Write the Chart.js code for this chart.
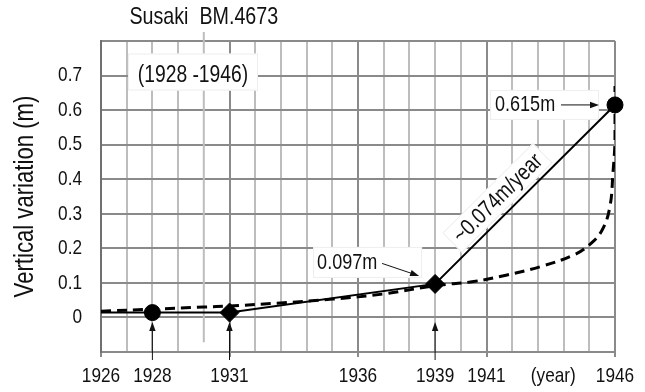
<!DOCTYPE html>
<html>
<head>
<meta charset="utf-8">
<script src="https://cdn.jsdelivr.net/npm/chart.js@4/dist/chart.umd.min.js"></script>
<style>
  html, body { margin: 0; padding: 0; background: #fff; }
  #wrap { width: 645px; height: 392px; }
</style>
</head>
<body>
<div id="wrap"><canvas id="c" width="645" height="392"></canvas></div>
<script>
// Levelling survey at benchmark BM.4673 (Susaki)
const surveyYears  = [1926, 1928, 1931, 1939, 1946];
const surveyValues = [0.014, 0.014, 0.014, 0.097, 0.615];

// Smooth trend (dashed)
const trendYears  = [1926, 1928, 1930, 1931, 1933, 1935, 1937, 1939, 1940.5, 1941.8, 1943.1, 1944.4, 1945, 1945.5, 1945.8, 1945.92, 1946, 1946];
const trendValues = [0.018, 0.024, 0.030, 0.033, 0.042, 0.053, 0.068, 0.092, 0.104, 0.123, 0.147, 0.181, 0.21, 0.253, 0.32, 0.418, 0.514, 0.67];

// Axis labels
const yearTicks   = [1926, 1928, 1931, 1936, 1939, 1941, 1946];
const yearUnit    = '(year)';
const yearUnitPos = 1943.6;
const valueTicks  = [0, 0.1, 0.2, 0.3, 0.4, 0.5, 0.6, 0.7];

const FONT = "'Liberation Sans', Arial, sans-serif";
const MAJOR = '#8a8a8a';
const MINOR = '#bdbdbd';
const CLEAR = 'rgba(0,0,0,0)';

// Condensed lettering: every string on this canvas is drawn horizontally
// compressed around its anchor point, giving a narrow sans face.
const canvas = document.getElementById('c');
const c2d = canvas.getContext('2d');
const NARROW = 0.82;
const rawFill = c2d.fillText.bind(c2d);
const rawMeasure = c2d.measureText.bind(c2d);
c2d.fillText = function (text, x, y, maxWidth) {
  this.save();
  this.translate(x, y);
  this.scale(NARROW, 1);
  if (maxWidth !== undefined && maxWidth !== null) rawFill(text, 0, 0, maxWidth / NARROW);
  else rawFill(text, 0, 0);
  this.restore();
};
c2d.measureText = function (text) {
  const m = rawMeasure(text);
  return {
    width: m.width * NARROW,
    actualBoundingBoxLeft: m.actualBoundingBoxLeft * NARROW,
    actualBoundingBoxRight: m.actualBoundingBoxRight * NARROW,
    actualBoundingBoxAscent: m.actualBoundingBoxAscent,
    actualBoundingBoxDescent: m.actualBoundingBoxDescent,
    fontBoundingBoxAscent: m.fontBoundingBoxAscent,
    fontBoundingBoxDescent: m.fontBoundingBoxDescent
  };
};

function arrow(ctx, x1, y1, x2, y2) {
  const a = Math.atan2(y2 - y1, x2 - x1);
  const L = 9, W = 3.2;
  ctx.beginPath();
  ctx.moveTo(x1, y1);
  ctx.lineTo(x2 - Math.cos(a) * L * 0.8, y2 - Math.sin(a) * L * 0.8);
  ctx.stroke();
  ctx.beginPath();
  ctx.moveTo(x2, y2);
  ctx.lineTo(x2 - Math.cos(a) * L - Math.sin(a) * W, y2 - Math.sin(a) * L + Math.cos(a) * W);
  ctx.lineTo(x2 - Math.cos(a) * L + Math.sin(a) * W, y2 - Math.sin(a) * L - Math.cos(a) * W);
  ctx.closePath();
  ctx.fill();
}

function whiteBox(ctx, x, y, w, h) {
  ctx.fillStyle = '#fff';
  ctx.fillRect(x, y, w, h);
  ctx.strokeStyle = '#eeeeee';
  ctx.lineWidth = 1;
  ctx.strokeRect(x + 0.5, y + 0.5, w - 1, h - 1);
}

const annotations = {
  id: 'annotations',
  beforeDatasetsDraw(chart) {
    const { ctx, scales: { x, y } } = chart;
    ctx.save();

    // title with leader line to the axis
    const lx = x.getPixelForValue(1930);
    ctx.strokeStyle = MINOR;
    ctx.lineWidth = 2;
    ctx.beginPath();
    ctx.moveTo(lx, 32);
    ctx.lineTo(lx, y.getPixelForValue(-0.072));
    ctx.stroke();
    ctx.fillStyle = '#111';
    ctx.font = '24px ' + FONT;
    ctx.textAlign = 'center';
    ctx.textBaseline = 'middle';
    ctx.fillText('Susaki  BM.4673', lx, 17);

    // period box
    const bx = x.getPixelForValue(1927.05), by = y.getPixelForValue(0.7);
    whiteBox(ctx, bx, by - 22, 130, 37);
    ctx.fillStyle = '#111';
    ctx.font = '23.5px ' + FONT;
    ctx.textAlign = 'center';
    ctx.fillText('(1928 -1946)', bx + 65, by);

    // value labels
    const D = { x: x.getPixelForValue(1939), y: y.getPixelForValue(0.097) };
    whiteBox(ctx, D.x - 122, D.y - 37, 109, 31);
    ctx.fillStyle = '#111';
    ctx.font = '22px ' + FONT;
    ctx.textAlign = 'left';
    ctx.fillText('0.097m', D.x - 118, D.y - 20.5);

    const C = { x: x.getPixelForValue(1946), y: y.getPixelForValue(0.615) };
    whiteBox(ctx, C.x - 125, C.y - 15, 109, 30);
    ctx.fillStyle = '#111';
    ctx.fillText('0.615m', C.x - 120, C.y);

    // rate label along the 1939-1946 segment
    const ang = Math.atan2(C.y - D.y, C.x - D.x);
    const ux = Math.cos(ang), uy = Math.sin(ang);
    const nx = uy, ny = -ux;
    const mx = (C.x + D.x) / 2, my = (C.y + D.y) / 2;
    const tx = mx - 22 * ux + 17 * nx, ty = my - 22 * uy + 17 * ny;
    ctx.translate(tx, ty);
    ctx.rotate(ang);
    ctx.font = '23px ' + FONT;
    const tw = ctx.measureText('~0.074m/year').width;
    whiteBox(ctx, -tw / 2 - 6, -14, tw + 12, 28);
    ctx.fillStyle = '#111';
    ctx.textAlign = 'center';
    ctx.fillText('~0.074m/year', 0, 1);
    ctx.restore();
  },
  afterDatasetsDraw(chart) {
    const { ctx, scales: { x, y } } = chart;
    ctx.save();
    ctx.strokeStyle = '#111';
    ctx.fillStyle = '#111';
    ctx.lineWidth = 1;
    const tipY = y.getPixelForValue(0) + 4.5;
    [1928, 1931, 1939].forEach(yr => {
      const px = x.getPixelForValue(yr);
      arrow(ctx, px, 360, px, tipY);
    });
    const D = { x: x.getPixelForValue(1939), y: y.getPixelForValue(0.097) };
    arrow(ctx, D.x - 53, D.y - 20.5, D.x - 16, D.y - 8);
    const C = { x: x.getPixelForValue(1946), y: y.getPixelForValue(0.615) };
    arrow(ctx, C.x - 54, C.y, C.x - 16, C.y);
    ctx.restore();
  }
};

new Chart(canvas, {
  type: 'line',
  data: {
    datasets: [
      {
        data: surveyYears.map((yr, i) => ({ x: yr, y: surveyValues[i] })),
        borderColor: '#000',
        borderWidth: 2,
        tension: 0,
        pointStyle: ['circle', 'circle', 'rectRot', 'rectRot', 'circle'],
        pointRadius: [0, 8, 9.5, 9.5, 8],
        pointBackgroundColor: '#000',
        pointBorderColor: '#000',
        pointBorderWidth: 1,
        clip: false
      },
      {
        data: trendYears.map((yr, i) => ({ x: yr, y: trendValues[i] })),
        borderColor: '#000',
        borderWidth: 3,
        borderDash: [10, 6],
        pointRadius: 0,
        tension: 0.4
      }
    ]
  },
  options: {
    responsive: false,
    animation: false,
    events: [],
    layout: { padding: { left: 0, top: 41, right: 30, bottom: 0 } },
    plugins: { legend: { display: false }, tooltip: { enabled: false }, title: { display: false } },
    scales: {
      x: {
        type: 'linear',
        min: 1926,
        max: 1946,
        afterBuildTicks(scale) {
          const t = [];
          for (let v = 1926; v <= 1946; v++) t.push({ value: v });
          t.push({ value: yearUnitPos });
          t.sort((a, b) => a.value - b.value);
          scale.ticks = t;
        },
        afterFit(scale) { scale.height = 40; },
        grid: {
          lineWidth: 2,
          tickLength: 5,
          color: c => {
            const v = c.tick && c.tick.value;
            if (v === yearUnitPos || v === 1930) return CLEAR;
            return (v - 1926) % 5 === 0 ? MAJOR : MINOR;
          },
          tickColor: c => {
            const v = c.tick && c.tick.value;
            return (v - 1926) % 5 === 0 ? MAJOR : CLEAR;
          }
        },
        border: { color: MAJOR, width: 2 },
        ticks: {
          autoSkip: false,
          maxRotation: 0,
          padding: 7,
          color: '#111',
          font: { family: FONT, size: 21 },
          callback: v => yearTicks.includes(v) ? String(v) : (v === yearUnitPos ? yearUnit : '')
        }
      },
      y: {
        min: -0.1,
        max: 0.8,
        afterBuildTicks(scale) {
          const t = [];
          for (let i = -1; i <= 8; i++) t.push({ value: i / 10 });
          scale.ticks = t;
        },
        afterFit(scale) { scale.width = 101; },
        grid: { lineWidth: 2, color: MAJOR, drawTicks: false },
        border: { color: '#707070', width: 2 },
        ticks: {
          autoSkip: false,
          padding: 19,
          color: '#111',
          font: { family: FONT, size: 21 },
          callback: v => valueTicks.includes(v) ? (v === 0 ? '0' : v.toFixed(1)) : ''
        },
        title: {
          display: true,
          text: 'Vertical variation (m)',
          color: '#111',
          font: { family: FONT, size: 27 },
          padding: { top: 9, bottom: 0 }
        }
      }
    }
  },
  plugins: [annotations]
});
</script>
</body>
</html>
